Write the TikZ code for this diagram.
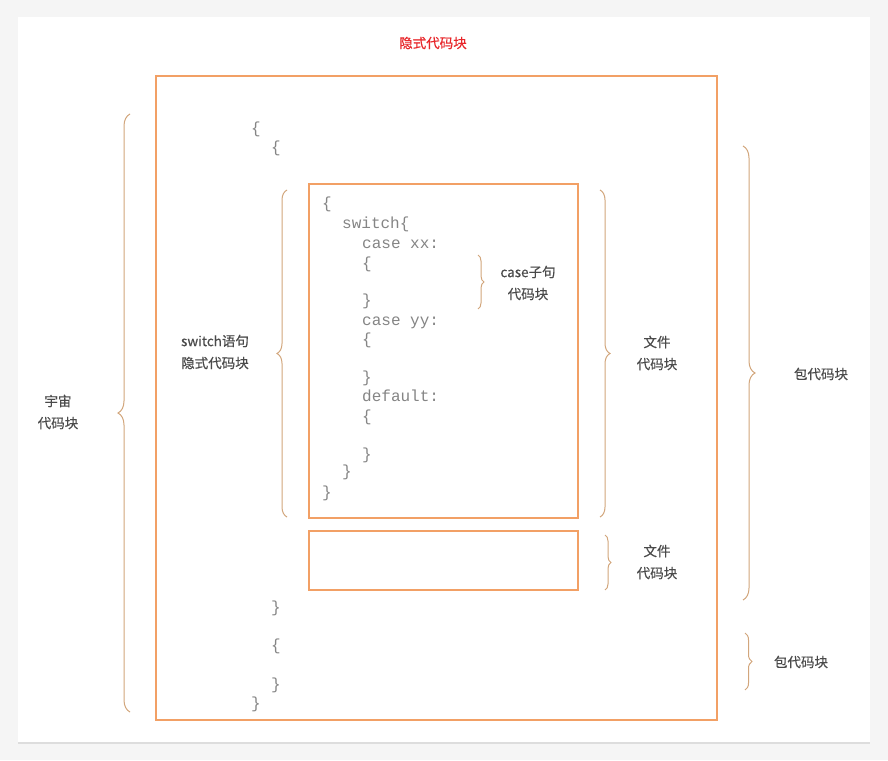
\documentclass[tikz,border=0pt]{standalone}
\usepackage{fontspec}
\setmainfont{Noto Sans CJK SC}[FakeBold=0.4]
\newfontfamily\codefont{Liberation Mono}
\usetikzlibrary{decorations.pathreplacing,shadows}

\definecolor{boxorange}{HTML}{F2A065}
\definecolor{bracetan}{HTML}{D2A67C}
\definecolor{labelgray}{HTML}{4A4A4A}
\definecolor{codegray}{HTML}{858585}
\definecolor{titlered}{HTML}{E8262A}

\begin{document}
\begin{tikzpicture}[x=1pt, y=-1pt,
    block/.style={draw=boxorange, line width=1.6pt, inner sep=0pt},
    cbrace/.style={draw=bracetan, line width=1pt, decorate, decoration={brace, amplitude=#1}},
    cbrace/.default=10pt,
    lbl/.style={text=labelgray, font=\fontsize{13.5}{22}\selectfont, align=center},
    code/.style={text=codegray, font=\codefont\fontsize{16}{19}\selectfont, anchor=base west, inner sep=0pt}]
  \useasboundingbox (0,0) rectangle (888,760);
  \fill[gray!8] (0,0) rectangle (888,760);
  \path[fill=white, drop shadow={opacity=0.2, shadow xshift=0pt, shadow yshift=-2pt}] (18,17) rectangle (870,742);

  \node[lbl, text=titlered] (title) at (433,43) {隐式代码块};

  \node[block, minimum width=561pt, minimum height=644pt] (pkg) at (436.5,398) {};
  \node[block, minimum width=269pt, minimum height=334pt] (file1) at (443.5,351) {};
  \node[block, minimum width=269pt, minimum height=59pt] (file2) at (443.5,560.5) {};

  \foreach \n/\x/\y/\t in {a/251/133/\{, b/271/152/\{, c/271/612/\}, d/271/650/\{, e/271/689/\}, f/251/708/\}}
    \node[code] (outer\n) at (\x,\y) {\t};

  \foreach \n/\x/\y/\t in {a/322/208/\{, b/342/228/switch\{, c/362/248/case xx:, d/362/268/\{, e/362/305/\},
      f/362/325/case yy:, g/362/344/\{, h/362/382/\}, i/362/401/default:, j/362/421/\{, k/362/459/\},
      l/342/476/\}, m/322/497/\}}
    \node[code] (code\n) at (\x,\y) {\t};

  \coordinate (uniTop) at (130,114);
  \coordinate (uniBot) at (130,712);
  \draw[cbrace=12pt] (uniBot) -- (uniTop);
  \node[lbl] (uniLbl) at (58,412) {宇宙\\代码块};

  \coordinate (swTop) at (287,190);
  \coordinate (swBot) at (287,517);
  \draw[cbrace] (swBot) -- (swTop);
  \node[lbl] (swLbl) at (215,352) {switch语句\\隐式代码块};

  \coordinate (caseTop) at (478,255);
  \coordinate (caseBot) at (478,309);
  \draw[cbrace=6pt] (caseTop) -- (caseBot);
  \node[lbl] (caseLbl) at (528,283) {case子句\\代码块};

  \coordinate (fileTop) at (600,190);
  \coordinate (fileBot) at (600,517);
  \draw[cbrace] (fileTop) -- (fileBot);
  \node[lbl] (fileLbl) at (657,353) {文件\\代码块};

  \coordinate (fileTwoTop) at (605,535);
  \coordinate (fileTwoBot) at (605,590);
  \draw[cbrace=6pt] (fileTwoTop) -- (fileTwoBot);
  \node[lbl] (fileTwoLbl) at (657,562) {文件\\代码块};

  \coordinate (pkgTop) at (743,146);
  \coordinate (pkgBot) at (743,600);
  \draw[cbrace=12pt] (pkgTop) -- (pkgBot);
  \node[lbl] (pkgLbl) at (821,374) {包代码块};

  \coordinate (pkgTwoTop) at (745,633);
  \coordinate (pkgTwoBot) at (745,690);
  \draw[cbrace=7pt] (pkgTwoTop) -- (pkgTwoBot);
  \node[lbl] (pkgTwoLbl) at (801,662) {包代码块};
\end{tikzpicture}
\end{document}
